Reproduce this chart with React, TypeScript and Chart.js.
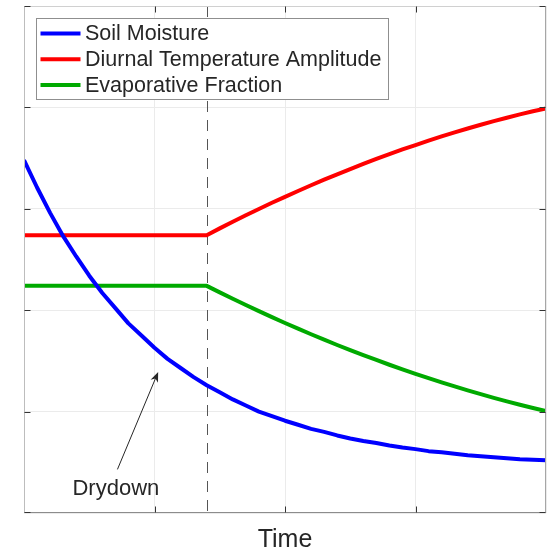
import React, { useEffect, useRef } from "react";
import { Chart, registerables } from "chart.js";

Chart.register(...registerables);

// ---- Data ----
const timePoints = [
  0, 0.025, 0.05, 0.075, 0.1, 0.125, 0.15, 0.175, 0.2, 0.225, 0.25, 0.275, 0.3, 0.325, 0.35,
  0.375, 0.4, 0.425, 0.45, 0.475, 0.5, 0.525, 0.55, 0.575, 0.6, 0.625, 0.65, 0.675, 0.7,
  0.725, 0.75, 0.775, 0.8, 0.825, 0.85, 0.875, 0.9, 0.925, 0.95, 0.975, 1.0,
];
const soilMoisture = [
  3.48, 3.21, 2.96, 2.73, 2.53, 2.34, 2.17, 2.02, 1.87, 1.75, 1.63, 1.52, 1.43, 1.34, 1.26,
  1.19, 1.12, 1.06, 1.0, 0.955, 0.91, 0.87, 0.83, 0.8, 0.765, 0.735, 0.71, 0.69, 0.665,
  0.645, 0.63, 0.61, 0.6, 0.585, 0.57, 0.56, 0.55, 0.54, 0.53, 0.525, 0.52,
];
const diurnalTempAmplitude = [
  2.74, 2.74, 2.74, 2.74, 2.74, 2.74, 2.74, 2.74, 2.74, 2.74, 2.74, 2.74, 2.74, 2.74, 2.74,
  2.807, 2.872, 2.936, 2.998, 3.059, 3.118, 3.176, 3.232, 3.287, 3.34, 3.392, 3.443, 3.492, 3.539,
  3.585, 3.629, 3.672, 3.714, 3.754, 3.792, 3.829, 3.864, 3.898, 3.931, 3.962, 3.99,
];
const evaporativeFraction = [
  2.24, 2.24, 2.24, 2.24, 2.24, 2.24, 2.24, 2.24, 2.24, 2.24, 2.24, 2.24, 2.24, 2.24, 2.24,
  2.176, 2.113, 2.051, 1.991, 1.932, 1.874, 1.818, 1.763, 1.71, 1.657, 1.606, 1.557, 1.509, 1.462,
  1.416, 1.372, 1.33, 1.288, 1.248, 1.209, 1.172, 1.136, 1.101, 1.068, 1.036, 1.005,
];
const seriesLabels = ["Soil Moisture", "Diurnal Temperature Amplitude", "Evaporative Fraction"];
const seriesColors = ["#0000ff", "#ff0000", "#00aa00"];
const xTickValues = [0, 0.25, 0.5, 0.75, 1];
const yTickValues = [0, 1, 2, 3, 4, 5];
const drydownStart = 0.35;
const xTitle = "Time";
const annotationText = "Drydown";
const arrowTail = { x: 0.179, y: 0.43 };
const arrowTip = { x: 0.257, y: 1.39 };
const annotationPos = { x: 0.176, y: 0.178 };

const FONT = "'Liberation Sans', Arial, Helvetica, sans-serif";
const TEXT_COLOR = "#262626";

const decorPlugin = {
  id: "decor",
  beforeDatasetsDraw(chart: any) {
    const { ctx, chartArea, scales } = chart;
    const x = scales.x.getPixelForValue(drydownStart);
    ctx.save();
    ctx.strokeStyle = "#555555";
    ctx.lineWidth = 1;
    ctx.setLineDash([11, 8]);
    ctx.beginPath();
    ctx.moveTo(Math.round(x) + 0.5, chartArea.top);
    ctx.lineTo(Math.round(x) + 0.5, chartArea.bottom);
    ctx.stroke();
    ctx.restore();
  },
  afterDatasetsDraw(chart: any) {
    const { ctx, chartArea, scales } = chart;
    const { left, right, top, bottom } = chartArea;
    const L = Math.round(left) + 0.5;
    const R = Math.round(right) - 0.5;
    const T = Math.round(top) + 0.5;
    const B = Math.round(bottom) - 0.5;
    ctx.save();
    ctx.setLineDash([]);
    ctx.lineWidth = 1;
    const seg = (c: string, x1: number, y1: number, x2: number, y2: number) => {
      ctx.strokeStyle = c;
      ctx.beginPath();
      ctx.moveTo(x1, y1);
      ctx.lineTo(x2, y2);
      ctx.stroke();
    };
    // box
    seg("#d0d0d0", L, T, R, T);
    seg("#bdbdbd", L, T, L, B);
    seg("#a6a6a6", R, T, R, B);
    seg("#8c8c8c", L, B, R, B);
    // inward ticks
    const tl = 6;
    xTickValues.forEach((v) => {
      const px = Math.round(scales.x.getPixelForValue(v)) + 0.5;
      if (v === 0 || v === 1) return;
      seg("#333333", px, B, px, B - tl);
      seg("#333333", px, T, px, T + tl);
    });
    yTickValues.forEach((v) => {
      let py = Math.round(scales.y.getPixelForValue(v)) + 0.5;
      if (v === 0) py = B;
      if (v === 5) py = T;
      seg("#333333", L, py, L + tl, py);
      seg("#333333", R, py, R - tl, py);
    });

    // arrow annotation
    const tx = scales.x.getPixelForValue(arrowTail.x);
    const ty = scales.y.getPixelForValue(arrowTail.y);
    const hx = scales.x.getPixelForValue(arrowTip.x);
    const hy = scales.y.getPixelForValue(arrowTip.y);
    const ang = Math.atan2(hy - ty, hx - tx);
    const headLen = 10;
    const headW = 4;
    const bx = hx - headLen * Math.cos(ang);
    const by = hy - headLen * Math.sin(ang);
    ctx.strokeStyle = TEXT_COLOR;
    ctx.beginPath();
    ctx.moveTo(tx, ty);
    ctx.lineTo(hx - 6 * Math.cos(ang), hy - 6 * Math.sin(ang));
    ctx.stroke();
    ctx.fillStyle = TEXT_COLOR;
    const nx = -Math.sin(ang);
    const ny = Math.cos(ang);
    ctx.beginPath();
    ctx.moveTo(hx, hy);
    ctx.lineTo(bx + headW * nx, by + headW * ny);
    ctx.lineTo(hx - 7 * Math.cos(ang), hy - 7 * Math.sin(ang));
    ctx.lineTo(bx - headW * nx, by - headW * ny);
    ctx.closePath();
    ctx.fill();

    ctx.font = `22px ${FONT}`;
    ctx.textAlign = "center";
    ctx.textBaseline = "alphabetic";
    ctx.fillText(
      annotationText,
      scales.x.getPixelForValue(annotationPos.x),
      scales.y.getPixelForValue(annotationPos.y)
    );
    ctx.restore();
  },
  afterDraw(chart: any) {
    const { ctx } = chart;
    ctx.save();
    // legend box
    const bx = 36.5, by = 18.5, bw = 352, bh = 81;
    ctx.fillStyle = "#ffffff";
    ctx.fillRect(bx, by, bw, bh);
    ctx.strokeStyle = "#8f8f8f";
    ctx.lineWidth = 1;
    ctx.strokeRect(bx, by, bw, bh);
    ctx.font = `21.5px ${FONT}`;
    ctx.textAlign = "left";
    ctx.textBaseline = "middle";
    chart.data.datasets.forEach((ds: any, i: number) => {
      const cy = 33.5 + i * 25.7;
      ctx.strokeStyle = ds.borderColor;
      ctx.lineWidth = 4;
      ctx.beginPath();
      ctx.moveTo(40.5, cy);
      ctx.lineTo(80.5, cy);
      ctx.stroke();
      ctx.fillStyle = TEXT_COLOR;
      ctx.fillText(ds.label, 85, cy + 1);
    });
    ctx.restore();
  },
};

export default function App() {
  const ref = useRef<HTMLCanvasElement | null>(null);

  useEffect(() => {
    if (!ref.current) return;
    const series = [soilMoisture, diurnalTempAmplitude, evaporativeFraction];
    const chart = new Chart(ref.current, {
      type: "line",
      data: {
        datasets: series.map((vals, i) => ({
          label: seriesLabels[i],
          data: timePoints.map((t, j) => ({ x: t, y: vals[j] })),
          borderColor: seriesColors[i],
          backgroundColor: seriesColors[i],
          borderWidth: 4,
          borderJoinStyle: "round",
          pointRadius: 0,
          tension: 0,
          fill: false,
        })),
      },
      options: {
        responsive: false,
        animation: false,
        events: [],
        layout: { padding: { left: 24, top: 6, right: 4, bottom: 0 } },
        plugins: {
          legend: { display: false },
          tooltip: { enabled: false },
          title: { display: false },
        },
        scales: {
          x: {
            type: "linear",
            min: 0,
            max: 1,
            ticks: { display: false, stepSize: 0.25 },
            grid: { color: "#ebebeb", lineWidth: 1, drawTicks: false },
            border: { display: false },
            title: {
              display: true,
              text: xTitle,
              color: TEXT_COLOR,
              font: { family: FONT, size: 25, lineHeight: 0.7 },
              padding: { top: 18.5, bottom: 0 },
            },
          },
          y: {
            type: "linear",
            min: 0,
            max: 5,
            ticks: { display: false, stepSize: 1 },
            grid: { color: "#ebebeb", lineWidth: 1, drawTicks: false },
            border: { display: false },
          },
        },
      },
      plugins: [decorPlugin],
    });
    return () => chart.destroy();
  }, []);

  return (
    <div style={{ position: "absolute", left: 0, top: 0, width: 550, height: 549, background: "#fff" }}>
      <canvas ref={ref} width={550} height={549} style={{ display: "block" }} />
    </div>
  );
}
